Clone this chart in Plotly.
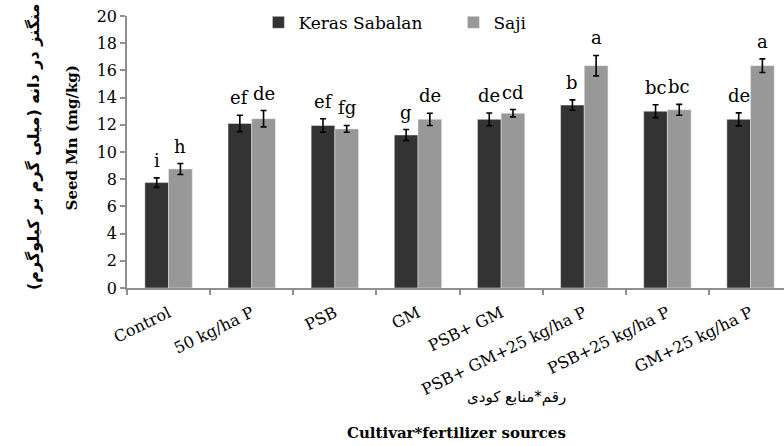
import plotly.graph_objects as go

# Fertilizer source treatments
treatments = ["Control", "50 kg/ha P", "PSB", "GM", "PSB+ GM",
              "PSB+ GM+25 kg/ha P", "PSB+25 kg/ha P", "GM+25 kg/ha P"]

# Seed Mn (mg/kg) for the two cultivars
keras_mn = [7.75, 12.1, 11.95, 11.25, 12.4, 13.45, 13.0, 12.4]
keras_err = [0.35, 0.6, 0.5, 0.4, 0.47, 0.38, 0.47, 0.48]
saji_mn = [8.75, 12.45, 11.7, 12.4, 12.85, 16.35, 13.1, 16.35]
saji_err = [0.4, 0.6, 0.25, 0.45, 0.27, 0.75, 0.4, 0.5]

# Mean-separation letters
keras_letters = ["i", "ef", "ef", "g", "de", "b", "bc", "de"]
saji_letters = ["h", "de", "fg", "de", "cd", "a", "bc", "a"]

DARK = "#333333"
GREY = "#989898"
AXIS = "#8f8f8f"
SERIF = "DejaVu Serif"
ARABIC = "DejaVu Sans"
BARGAP = 0.43

fig = go.Figure()
fig.add_trace(go.Bar(
    name="Keras Sabalan", x=treatments, y=keras_mn, marker_color=DARK,
    error_y=dict(type="data", array=keras_err, color="black", thickness=1.6, width=3),
))
fig.add_trace(go.Bar(
    name="Saji", x=treatments, y=saji_mn, marker_color=GREY,
    error_y=dict(type="data", array=saji_err, color="black", thickness=1.6, width=3),
))

# letters above each error bar
off = (1 - BARGAP) / 4
annotations = []
for i in range(len(treatments)):
    for dx, vals, errs, labs in ((-off, keras_mn, keras_err, keras_letters),
                                 (off, saji_mn, saji_err, saji_letters)):
        annotations.append(dict(
            x=i + dx, y=vals[i] + errs[i], xref="x", yref="y",
            text=labs[i], showarrow=False, yanchor="bottom", yshift=5,
            font=dict(family=SERIF, size=18, color="black"),
        ))

# axis titles (Persian + English)
annotations += [
    dict(x=(61 - 127) / 657, y=0.55, xref="paper", yref="paper", showarrow=False,
         text="Seed Mn (mg/kg)", textangle=-90,
         font=dict(family=SERIF, size=15, color="black", weight="bold")),
    dict(x=(22 - 127) / 657, y=0.52, xref="paper", yref="paper", showarrow=False,
         text="منگنز در دانه (میلی گرم بر کیلوگرم)", textangle=-90,
         font=dict(family=ARABIC, size=16, color="black", weight="bold")),
    dict(x=(568 - 127) / 657, y=-(397 - 288.5) / 272, xref="paper", yref="paper",
         showarrow=False, text="رقم*منابع کودی", yanchor="middle",
         font=dict(family=ARABIC, size=15, color="black")),
    dict(x=(568 - 127) / 657, y=-(433 - 288.5) / 272, xref="paper", yref="paper",
         showarrow=False, text="Cultivar*fertilizer sources", yanchor="middle",
         font=dict(family=SERIF, size=15, color="black", weight="bold")),
]

fig.update_layout(
    width=784, height=446,
    margin=dict(l=127, r=0, t=16, b=158),
    paper_bgcolor="white", plot_bgcolor="white",
    font=dict(family=SERIF, color="black"),
    barmode="group", bargap=BARGAP, bargroupgap=0,
    showlegend=True,
    legend=dict(orientation="h", x=0.2, y=0.975, xanchor="left", yanchor="middle",
                font=dict(family=SERIF, size=17, color="black"),
                bgcolor="rgba(0,0,0,0)", entrywidth=150, itemwidth=30),
    annotations=annotations,
    xaxis=dict(
        type="category", range=[-0.5, -0.5 + 657 / 83.14],
        showline=True, linecolor=AXIS, linewidth=1.5,
        ticks="outside", tickson="boundaries", ticklen=5, tickcolor=AXIS, tickwidth=1.5,
        tickangle=-26, ticklabelstandoff=8,
        tickfont=dict(family=SERIF, size=16, color="black"),
        showgrid=False, zeroline=False,
    ),
    yaxis=dict(
        range=[0, 20], dtick=2, showline=True, linecolor=AXIS, linewidth=1.5,
        ticks="outside", ticklen=5, tickcolor=AXIS, tickwidth=1.5,
        tickfont=dict(family=SERIF, size=16, color="black"),
        showgrid=False, zeroline=False,
    ),
)

fig.write_html("out.html")
